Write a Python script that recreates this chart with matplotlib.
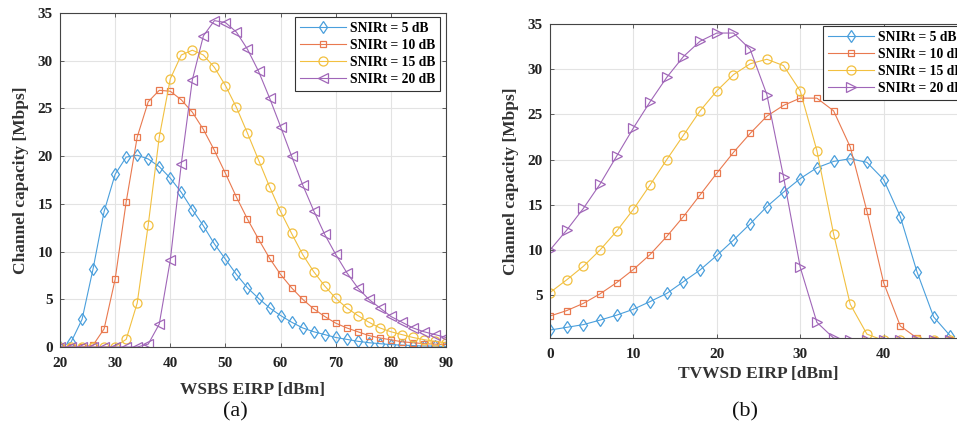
import matplotlib
matplotlib.use("Agg")
import matplotlib.pyplot as plt
import numpy as np

# ---------------- data ----------------
labels = ["SNIRt = 5 dB", "SNIRt = 10 dB", "SNIRt = 15 dB", "SNIRt = 20 dB"]

# (a) WSBS EIRP sweep
wsbs_eirp = list(range(20, 91, 2))
a_snir5 = [0.0, 0.5, 2.9, 8.2, 14.2, 18.1, 19.9, 20.1, 19.7, 18.9, 17.7, 16.2, 14.4, 12.7,
           10.8, 9.2, 7.6, 6.2, 5.1, 4.1, 3.3, 2.6, 2.0, 1.6, 1.3, 1.0, 0.8, 0.6, 0.45, 0.35,
           0.25, 0.2, 0.15, 0.1, 0.1, 0.05]
a_snir10 = [0.0, 0.0, 0.0, 0.2, 1.9, 7.1, 15.2, 22.0, 25.7, 26.9, 26.8, 25.9, 24.6, 22.8,
            20.6, 18.2, 15.7, 13.4, 11.3, 9.3, 7.6, 6.2, 5.0, 4.0, 3.2, 2.5, 2.0, 1.6, 1.2,
            0.95, 0.75, 0.55, 0.45, 0.35, 0.3, 0.25]
a_snir15 = [0.0, 0.0, 0.0, 0.0, 0.0, 0.05, 0.8, 4.6, 12.8, 22.0, 28.1, 30.6, 31.1, 30.6,
            29.3, 27.4, 25.1, 22.4, 19.6, 16.8, 14.2, 11.9, 9.7, 7.9, 6.4, 5.1, 4.1, 3.3,
            2.6, 2.0, 1.6, 1.3, 1.0, 0.77, 0.6, 0.45]
a_snir20 = [0.0, 0.0, 0.0, 0.0, 0.0, 0.0, 0.0, 0.0, 0.3, 2.4, 9.1, 19.2, 28.0, 32.6, 34.2,
            34.0, 33.0, 31.2, 28.9, 26.1, 23.1, 20.0, 17.0, 14.3, 11.8, 9.7, 7.8, 6.2, 5.0,
            4.1, 3.2, 2.6, 2.0, 1.6, 1.3, 1.0]

# (b) TVWSD EIRP sweep
tvwsd_eirp = list(range(0, 49, 2))
b_snir5 = [1.15, 1.45, 1.75, 2.25, 2.8, 3.45, 4.3, 5.2, 6.5, 7.8, 9.4, 11.1, 12.9, 14.8,
           16.4, 17.9, 19.1, 19.8, 20.1, 19.7, 17.8, 13.7, 7.6, 2.6, 0.5]
b_snir10 = [2.7, 3.3, 4.1, 5.15, 6.4, 7.85, 9.5, 11.5, 13.7, 16.1, 18.5, 20.8, 22.9, 24.8,
            26.0, 26.8, 26.8, 25.4, 21.4, 14.3, 6.4, 1.6, 0.27, 0.0, 0.0]
b_snir15 = [5.3, 6.7, 8.2, 10.0, 12.1, 14.5, 17.2, 20.0, 22.7, 25.4, 27.6, 29.4, 30.6, 31.1,
            30.4, 27.6, 21.0, 11.8, 4.0, 0.7, 0.0, 0.0, 0.0, 0.0, 0.0]
b_snir20 = [10.0, 12.2, 14.6, 17.3, 20.4, 23.5, 26.4, 29.1, 31.4, 33.1, 34.0, 34.0, 32.2,
            27.2, 18.1, 8.1, 2.0, 0.27, 0.0, 0.0, 0.0, 0.0, 0.0, 0.0, 0.0]

# ---------------- style ----------------
colors = ["#4a9fdc", "#e9794f", "#f2c040", "#a066b8"]
serif = ["Liberation Serif", "DejaVu Serif"]
plt.rcParams["font.family"] = serif

W, H = 957, 432
fig = plt.figure(figsize=(W / 100, H / 100), dpi=100)


def px_axes(l, t, r, b):
    return fig.add_axes([l / W, 1 - b / H, (r - l) / W, (b - t) / H])


def style(ax):
    ax.grid(True, color="#e3e3e3", linewidth=0.8)
    ax.set_axisbelow(True)
    for s in ax.spines.values():
        s.set_color("#444444")
        s.set_linewidth(0.8)
    ax.tick_params(direction="in", top=True, right=True, length=3, width=0.6,
                   color="#444444", labelsize=11)
    ax.tick_params(axis="x", pad=7)
    ax.tick_params(axis="y", pad=5)
    for lab in ax.get_xticklabels() + ax.get_yticklabels():
        lab.set_fontweight("bold")
        lab.set_color("#222222")


msizes = [6.5, 4.5, 6.5, 7]
legprops = dict(prop={"family": serif, "weight": "bold", "size": 9.8},
                frameon=True, fancybox=False, edgecolor="#333333", framealpha=1,
                borderpad=0.35, labelspacing=0.3, handlelength=3.4, handletextpad=0.3,
                borderaxespad=0)

# (a)
axa = px_axes(60, 13, 446, 347)
markers_a = ["d", "s", "o", "<"]
for y, c, m, ms, lab in zip([a_snir5, a_snir10, a_snir15, a_snir20], colors, markers_a, msizes, labels):
    axa.plot(wsbs_eirp, y, color=c, marker=m, markersize=ms, markerfacecolor="none",
             markeredgewidth=0.9, linewidth=0.8, label=lab)
axa.set_xlim(20, 90)
axa.set_ylim(0, 35)
axa.set_xticks(range(20, 91, 10))
axa.set_yticks(range(0, 36, 5))
style(axa)
axa.set_xlabel("WSBS EIRP [dBm]", fontsize=12.5, fontweight="bold", color="#333333", labelpad=9)
axa.set_ylabel("Channel capacity [Mbps]", fontsize=12.5, fontweight="bold", color="#333333", labelpad=6)
leg = axa.legend(loc="upper right", bbox_to_anchor=(1.0 - 6 / 386, 1.0 - 4 / 334), **legprops)
leg.get_frame().set_linewidth(0.8)

# (b)
axb = px_axes(550, 24, 967, 338)
markers_b = ["d", "s", "o", ">"]
for y, c, m, ms, lab in zip([b_snir5, b_snir10, b_snir15, b_snir20], colors, markers_b, msizes, labels):
    axb.plot(tvwsd_eirp, y, color=c, marker=m, markersize=ms, markerfacecolor="none",
             markeredgewidth=0.9, linewidth=0.8, label=lab)
axb.set_xlim(0, 50)
axb.set_ylim(0.27, 35)
axb.set_xticks(range(0, 41, 10))
axb.set_yticks(range(5, 36, 5))
style(axb)
axb.set_xlabel("TVWSD EIRP [dBm]", fontsize=12.5, fontweight="bold", color="#333333", labelpad=4)
axb.set_ylabel("Channel capacity [Mbps]", fontsize=12.5, fontweight="bold", color="#333333", labelpad=6)
legb = axb.legend(loc="upper left", bbox_to_anchor=((823 - 550) / 417, 1.0 - 2 / 314), **legprops)
legb.get_frame().set_linewidth(0.8)

fig.text(235 / W, 1 - 412 / H, "(a)", ha="center", va="center", fontsize=16, color="#111111")
fig.text(745 / W, 1 - 412 / H, "(b)", ha="center", va="center", fontsize=16, color="#111111")

fig.savefig("out.png", dpi=100)
